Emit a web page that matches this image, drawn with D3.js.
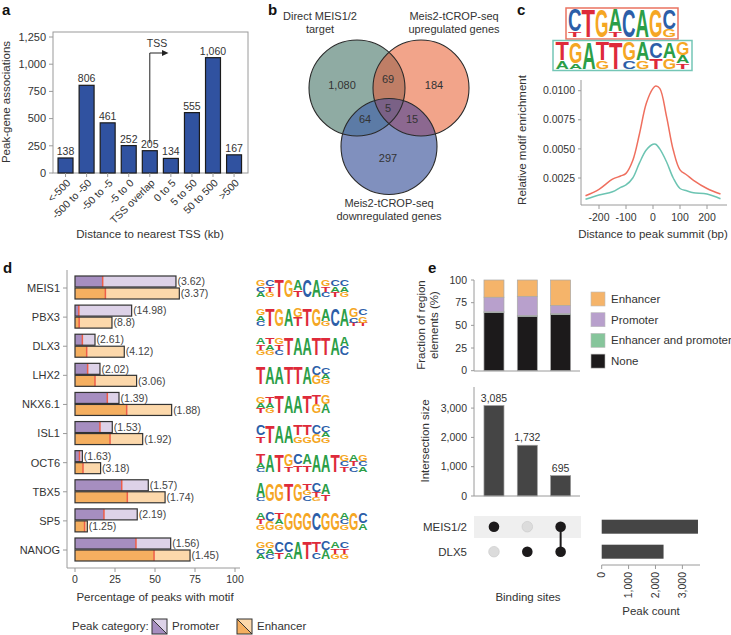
<!DOCTYPE html>
<html><head><meta charset="utf-8">
<script src="https://cdn.jsdelivr.net/npm/d3@7"></script>
<style>
body{margin:0;background:#fff}
text{font-family:"Liberation Sans",Arial,Helvetica,sans-serif}
</style>
</head><body>
<svg id="fig" width="731" height="635" xmlns="http://www.w3.org/2000/svg"></svg>
<script>
// ================= DATA =================
// Panel a
const tssCategories = ["<-500","-500 to -50","-50 to -5","-5 to 0","TSS overlap","0 to 5","5 to 50","50 to 500",">500"];
const tssCounts = [138,806,461,252,205,134,555,1060,167];
const tssTicks = [0,250,500,750,1000,1250];

// Panel b (Venn)
const vennSetLabels = [["Direct MEIS1/2","target"],["Meis2-tCROP-seq","upregulated genes"],["Meis2-tCROP-seq","downregulated genes"]];
const vennRegions = ["A","B","C","AB","AC","BC","ABC"];
const vennCounts = [1080,184,297,69,64,15,5];

// Panel c
const summitPos = [-250,-200,-150,-120,-100,-75,-50,-25,0,10,25,50,75,100,125,150,200,250];
const enrichMeis = [0.00098,0.00153,0.0024,0.00267,0.0029,0.0040,0.0063,0.0089,0.0102,0.0104,0.0102,0.0078,0.0049,0.0032,0.00276,0.0023,0.0016,0.00113];
const enrichPbx  = [0.00067,0.00104,0.00132,0.0017,0.0019,0.0025,0.0038,0.0049,0.0054,0.0054,0.0050,0.0039,0.0025,0.0016,0.0014,0.00124,0.00113,0.00072];
const enrichYTicks = [0.0025,0.005,0.0075,0.01];
const summitXTicks = [-200,-100,0,100,200];
const logoMeis = ["C8T2","T10","G10","A8T2","C10","A10","G10","C7G3"];
const logoPbx  = ["T7A3","G8A2","A10","T7G3","T10","G7C3","A7G3","C6T4","A6G4","G5A3T2"];

// Panel d
const tfNames = ["MEIS1","PBX3","DLX3","LHX2","NKX6.1","ISL1","OCT6","TBX5","SP5","NANOG"];
const promoterPct   = [63.1,35.4,12.5,15.6,27.5,23.3,4.6,45.8,38.9,59.8];
const promoterBgPct = [17.3,2.4,4.6,7.9,20.2,15.6,2.8,29.2,18.1,38.1];
const enhancerPct   = [65.2,23.1,30.8,38.5,60.4,42.3,16.0,56.3,7.7,71.9];
const enhancerBgPct = [19.0,2.6,7.3,12.5,32.3,21.9,5.0,32.7,6.0,49.4];
const promoterFold  = ["3.62","14.98","2.61","2.02","1.39","1.53","1.63","1.57","2.19","1.56"];
const enhancerFold  = ["3.37","8.8","4.12","3.06","1.88","1.92","3.18","1.74","1.25","1.45"];
const pctTicks = [0,25,50,75,100];
const tfLogos = [
  ["G4A3C3","C4G3T3","T10","G10","A6T4","C10","A10","G4C3T3","C4T3A3","C4G3A3"],
  ["G4C3A3","T10","G10","A10","T5G5","T10","G10","A7G3","C10","A10","G5C3T2","G4C4T2"],
  ["A4G3T3","T4G3A3","G4C3T3","T10","A10","A10","T10","T10","A10","C5A5"],
  ["T10","A10","A10","T10","T10","A10","G5C5","C4G3A3"],
  ["G4T3A3","T4G3A3","T10","A10","A10","T10","G5T5","A5G5"],
  ["C6T4","T10","A10","A10","T6G4","T6G4","G5C5","C4G3A3"],
  ["T5A3C2","A10","T10","G7T3","C6T4","A6T4","A10","A10","T10","G4T3C3","A4C3T3","G4A3C3"],
  ["A8C2","G10","G10","T10","G10","T4C3G3","C5T3G2","A6T4"],
  ["A4G3T3","G5C5","T4G3A3","G10","G10","G10","C10","G10","G10","A4G3C3","G10","C6A4"],
  ["G4A3C3","G4C3A3","C6T4","C6A4","A10","T10","T6C4","A5C5","A4G3T3","C4G3T3"]
];

// Panel e
const regionCats = ["None","Enhancer and promoter","Promoter","Enhancer"];
const fracNone     = [64,60,62];
const fracBoth     = [1,1,1];
const fracPromoter = [16,21,9];
const fracEnhancer = [19,18,28];
const fracTicks = [0,25,50,75,100];
const intersectSizes = [3085,1732,695];
const intersectTicks = [0,1000,2000,3000];
const setNames = ["MEIS1/2","DLX5"];
const setMembership = [[1,0],[0,1],[1,1]];
const setPeakCounts = [3580,2300];
const peakTicks = [0,1000,2000,3000];

// ================= DRAW =================
const svg = d3.select("#fig");
svg.append("rect").attr("width",731).attr("height",635).attr("fill","#fff");
const TXT = "#333", AXC = "#9a9a9a";
function T(g,x,y,s,o={}){
  const t=g.append("text").text(s).attr("font-size",o.size||11)
    .attr("text-anchor",o.anchor||"start").attr("fill",o.fill||TXT);
  if(o.weight) t.attr("font-weight",o.weight);
  if(o.rotate!=null) t.attr("transform",`translate(${x},${y}) rotate(${o.rotate})`);
  else t.attr("x",x).attr("y",y);
  if(o.dy) t.attr("dy",o.dy);
  return t;
}
function L(g,x1,y1,x2,y2,c,w){g.append("line").attr("x1",x1).attr("y1",y1).attr("x2",x2).attr("y2",y2).attr("stroke",c||AXC).attr("stroke-width",w||1);}
const baseColor={A:"#2b9e47",C:"#2c5ea8",G:"#f5a623",T:"#de2a3a"};
function drawLogo(g,cols,x0,yb,w,H){
  cols.forEach((col,i)=>{
    const parts=[...col.matchAll(/([ACGT])(\d+)/g)].map(m=>({l:m[1],v:+m[2]}));
    parts.sort((p,q)=>p.v-q.v);
    let y=yb;
    parts.forEach(p=>{
      const h=H*p.v/10;
      g.append("text").text(p.l).attr("font-size",10).attr("font-weight","bold")
       .attr("fill",baseColor[p.l]).attr("textLength",w).attr("lengthAdjust","spacingAndGlyphs")
       .attr("transform",`translate(${x0+i*w},${y}) scale(1,${h/7.3})`);
      y-=h;
    });
  });
}
const fmt = d3.format(",");

// ---------- Panel a ----------
{
  const g=svg.append("g");
  T(g,2,15,"a",{size:15,weight:"bold",fill:"#111"});
  const x=d3.scaleBand().domain(tssCategories).range([55,244.6]).paddingInner(0.29).paddingOuter(0.145);
  const y=d3.scaleLinear().domain([0,1250]).range([173,37]);
  g.append("rect").attr("x",53).attr("y",32).attr("width",195).attr("height",141).attr("fill","none").attr("stroke",AXC);
  tssTicks.forEach(t=>{L(g,49,y(t),53,y(t));T(g,46,y(t),fmt(t),{anchor:"end",dy:"0.35em"});});
  g.selectAll(".bar").data(tssCounts).join("rect")
    .attr("x",(d,i)=>x(tssCategories[i])).attr("width",x.bandwidth())
    .attr("y",d=>y(d)).attr("height",d=>y(0)-y(d))
    .attr("fill","#3052a0").attr("stroke","#1b1b1b").attr("stroke-width",1.2);
  tssCategories.forEach((c,i)=>{
    const cx=x(c)+x.bandwidth()/2;
    L(g,cx,173,cx,177);
    T(g,cx,y(tssCounts[i])-3,fmt(tssCounts[i]),{anchor:"middle",size:10.5});
    T(g,cx+3,181,c,{anchor:"end",rotate:-45,dy:"0.35em",size:10.5});
  });
  T(g,10,102,"Peak-gene associations",{anchor:"middle",rotate:-90,size:11.5});
  T(g,150,238,"Distance to nearest TSS (kb)",{anchor:"middle",size:11.5});
  const ax=x("TSS overlap")+x.bandwidth()/2;
  g.append("path").attr("d",`M${ax},143V53H163`).attr("fill","none").attr("stroke","#222").attr("stroke-width",1);
  g.append("path").attr("d","M162,50L168.5,53L162,56Z").attr("fill","#222");
  T(g,157,47,"TSS",{anchor:"middle",size:10.5});
}

// ---------- Panel b ----------
{
  const g=svg.append("g");
  T(g,268,15,"b",{size:15,weight:"bold",fill:"#111"});
  const C=[[357,88],[421,88],[389,146.5]], r=48;
  const defs=svg.append("defs");
  C.forEach((c,i)=>defs.append("clipPath").attr("id","vc"+i).append("circle").attr("cx",c[0]).attr("cy",c[1]).attr("r",r));
  const fills=["#8faba3","#f2a48a","#8090be"];
  const circ=(c,f,clip)=>{const e=g.append("circle").attr("cx",c[0]).attr("cy",c[1]).attr("r",r).attr("fill",f);if(clip!=null)e.attr("clip-path",`url(#vc${clip})`);return e;};
  C.forEach((c,i)=>circ(c,fills[i]));
  circ(C[1],"#bf7e66",0);
  circ(C[2],"#5c7ba6",0);
  circ(C[2],"#8c6890",1);
  g.append("g").attr("clip-path","url(#vc0)").append("circle").attr("cx",C[2][0]).attr("cy",C[2][1]).attr("r",r).attr("fill","#7a6186").attr("clip-path","url(#vc1)");
  C.forEach(c=>g.append("circle").attr("cx",c[0]).attr("cy",c[1]).attr("r",r).attr("fill","none").attr("stroke","#2a2a2a").attr("stroke-width",1.1));
  const pos={A:[342,85],B:[434,85],C:[388,158],AB:[388,79],AC:[365,119],BC:[412,119],ABC:[388,108]};
  vennRegions.forEach((k,i)=>T(g,pos[k][0],pos[k][1],fmt(vennCounts[i]),{anchor:"middle",dy:"0.35em",size:11}));
  const lp=[[320,20],[454,20],[389,207]];
  vennSetLabels.forEach((ls,i)=>ls.forEach((s,j)=>T(g,lp[i][0],lp[i][1]+j*12.5,s,{anchor:"middle",size:11})));
}

// ---------- Panel c ----------
{
  const g=svg.append("g");
  T(g,517,15,"c",{size:15,weight:"bold",fill:"#111"});
  g.append("rect").attr("x",566).attr("y",8).attr("width",112).attr("height",31).attr("fill","#fff").attr("stroke","#ea7360").attr("stroke-width",1.5);
  drawLogo(g,logoMeis,568,37,13.5,28);
  g.append("rect").attr("x",553).attr("y",40.5).attr("width",139).attr("height",30).attr("fill","#fff").attr("stroke","#74c6b6").attr("stroke-width",1.5);
  drawLogo(g,logoPbx,555.5,68.5,13.4,27);
  const x=d3.scaleLinear().domain([-250,250]).range([585.5,720.5]);
  const y=d3.scaleLinear().domain([0,0.0108]).range([207.1,81.4]);
  L(g,581,80,581,205); L(g,581,205,727,205);
  enrichYTicks.forEach(t=>{L(g,578,y(t),581,y(t));T(g,575,y(t),d3.format(".4f")(t),{anchor:"end",dy:"0.35em",size:10.5});});
  summitXTicks.forEach(t=>{L(g,x(t),205,x(t),209);T(g,x(t),221,String(t),{anchor:"middle",size:10.5});});
  const line=d3.line().x((d,i)=>x(summitPos[i])).y(d=>y(d)).curve(d3.curveCatmullRom.alpha(0.5));
  g.append("path").attr("d",line(enrichMeis)).attr("fill","none").attr("stroke","#ef6f5e").attr("stroke-width",1.5);
  g.append("path").attr("d",line(enrichPbx)).attr("fill","none").attr("stroke","#6cc4b2").attr("stroke-width",1.5);
  T(g,526,140,"Relative motif enrichment",{anchor:"middle",rotate:-90,size:11.5});
  T(g,653,238,"Distance to peak summit (bp)",{anchor:"middle",size:11.5});
}

// ---------- Panel d ----------
{
  const g=svg.append("g");
  T(g,3,273,"d",{size:15,weight:"bold",fill:"#111"});
  const y=d3.scalePoint().domain(tfNames).range([288,550]);
  const x=d3.scaleLinear().domain([0,100]).range([75,235]);
  L(g,67,270,67,568); L(g,67,568,240,568);
  pctTicks.forEach(t=>{L(g,x(t),568,x(t),572);T(g,x(t),583,t,{anchor:"middle",size:10.5});});
  T(g,155,601,"Percentage of peaks with motif",{anchor:"middle",size:11.5});
  const groups=[
    {tot:promoterPct,bg:promoterBgPct,fold:promoterFold,off:-12,dark:"#a68ec0",light:"#ddd2e8"},
    {tot:enhancerPct,bg:enhancerBgPct,fold:enhancerFold,off:0,dark:"#f5af60",light:"#fcd8ab"}
  ];
  tfNames.forEach((n,i)=>{
    const cy=y(n);
    L(g,63,cy,67,cy);
    T(g,60,cy,n,{anchor:"end",dy:"0.35em",size:11});
    groups.forEach(G=>{
      const y0=cy+G.off, h=11;
      g.append("rect").attr("x",x(0)).attr("y",y0).attr("width",x(G.tot[i])-x(0)).attr("height",h).attr("fill",G.light);
      g.append("rect").attr("x",x(0)).attr("y",y0).attr("width",x(G.bg[i])-x(0)).attr("height",h).attr("fill",G.dark);
      L(g,x(G.bg[i]),y0,x(G.bg[i]),y0+h,"#ee5d48",1.5);
      g.append("rect").attr("x",x(0)).attr("y",y0).attr("width",x(G.tot[i])-x(0)).attr("height",h).attr("fill","none").attr("stroke","#333").attr("stroke-width",1.2);
      T(g,x(G.tot[i])+1.5,y0+h/2,`(${G.fold[i]})`,{dy:"0.35em",size:10.5,fill:"#444"});
    });
    drawLogo(g,tfLogos[i],256,cy+9,9.3,18);
  });
  // legend
  T(g,72,630,"Peak category:",{size:11.5});
  const sw=(x0,dark,light,label)=>{
    const s=15,y0=619;
    g.append("path").attr("d",`M${x0},${y0}L${x0},${y0+s}L${x0+s},${y0+s}Z`).attr("fill",dark);
    g.append("path").attr("d",`M${x0},${y0}L${x0+s},${y0}L${x0+s},${y0+s}Z`).attr("fill",light);
    L(g,x0,y0,x0+s,y0+s,"#333",1);
    g.append("rect").attr("x",x0).attr("y",y0).attr("width",s).attr("height",s).attr("fill","none").attr("stroke","#333").attr("stroke-width",1);
    T(g,x0+20,630,label,{size:11.5});
  };
  sw(152,"#a68ec0","#ddd2e8","Promoter");
  sw(237,"#f5af60","#fcd8ab","Enhancer");
}

// ---------- Panel e ----------
{
  const g=svg.append("g");
  T(g,428,273,"e",{size:15,weight:"bold",fill:"#111"});
  const cols=[0,1,2];
  const x=d3.scaleBand().domain(cols).range([477.3,577.3]).paddingInner(0.4).paddingOuter(0.2);
  // stacked fraction
  const yF=d3.scaleLinear().domain([0,100]).range([370.7,280]);
  const stackData=cols.map(i=>({None:fracNone[i],"Enhancer and promoter":fracBoth[i],Promoter:fracPromoter[i],Enhancer:fracEnhancer[i]}));
  const series=d3.stack().keys(regionCats)(stackData);
  const regColor={"None":"#1c1a1b","Enhancer and promoter":"#86c59b","Promoter":"#b8a0cc","Enhancer":"#f5b46a"};
  series.forEach(s=>{
    g.selectAll(null).data(s).join("rect").attr("x",(d,i)=>x(i)).attr("width",x.bandwidth())
      .attr("y",d=>yF(d[1])).attr("height",d=>yF(d[0])-yF(d[1]))
      .attr("fill",regColor[s.key]).attr("stroke","#a8a8a8").attr("stroke-width",0.7);
  });
  L(g,474,280,474,371); L(g,474,371,580,371);
  fracTicks.forEach(t=>{L(g,471,yF(t),474,yF(t));T(g,467,yF(t),t,{anchor:"end",dy:"0.35em",size:10.5});});
  T(g,425,325,"Fraction of region",{anchor:"middle",rotate:-90,size:11.5});
  T(g,438,325,"elements (%)",{anchor:"middle",rotate:-90,size:11.5});
  ["Enhancer","Promoter","Enhancer and promoter","None"].forEach((k,j)=>{
    const cy=299+j*20.7;
    g.append("rect").attr("x",591).attr("y",cy-7).attr("width",14).attr("height",14).attr("fill",regColor[k]).attr("stroke","#bbb").attr("stroke-width",0.6);
    T(g,611,cy,k,{dy:"0.35em",size:11.5});
  });
  // intersection size
  const yI=d3.scaleLinear().domain([0,3720]).range([496,387]);
  g.selectAll(null).data(intersectSizes).join("rect").attr("x",(d,i)=>x(i)).attr("width",x.bandwidth())
    .attr("y",d=>yI(d)).attr("height",d=>yI(0)-yI(d)).attr("fill","#454545").attr("stroke","#9a9a9a").attr("stroke-width",0.7);
  intersectSizes.forEach((d,i)=>T(g,x(i)+x.bandwidth()/2,yI(d)-4,fmt(d),{anchor:"middle",size:10.5}));
  L(g,474,387,474,496); L(g,474,496,580,496);
  intersectTicks.forEach(t=>{L(g,471,yI(t),474,yI(t));T(g,467,yI(t),fmt(t),{anchor:"end",dy:"0.35em",size:10.5});});
  T(g,429,441,"Intersection size",{anchor:"middle",rotate:-90,size:11.5});
  // matrix
  const yS=d3.scalePoint().domain(setNames).range([526.7,551.7]);
  g.append("rect").attr("x",474).attr("y",516).attr("width",107).attr("height",22).attr("fill","#efefef");
  setNames.forEach(s=>T(g,467,yS(s),s,{anchor:"end",dy:"0.35em",size:11.5}));
  setMembership.forEach((m,i)=>{
    const cx=x(i)+x.bandwidth()/2;
    const on=setNames.filter((s,j)=>m[j]);
    if(on.length>1) L(g,cx,yS(on[0]),cx,yS(on[on.length-1]),"#1c1a1b",2);
    setNames.forEach((s,j)=>{
      g.append("circle").attr("cx",cx).attr("cy",yS(s)).attr("r",5.3)
        .attr("fill",m[j]?"#1c1a1b":"#dcdcdc").attr("stroke",m[j]?"none":"#c8c8c8").attr("stroke-width",0.6);
    });
  });
  T(g,528,601,"Binding sites",{anchor:"middle",size:11.5});
  // peak counts
  const xP=d3.scaleLinear().domain([0,3700]).range([601.7,701.2]);
  const bh=14;
  setNames.forEach((s,j)=>{
    g.append("rect").attr("x",xP(0)).attr("y",yS(s)-bh/2).attr("width",xP(setPeakCounts[j])-xP(0)).attr("height",bh).attr("fill","#454545");
  });
  L(g,601.7,565,700,565);
  peakTicks.forEach(t=>{L(g,xP(t),565,xP(t),569);T(g,xP(t),572,fmt(t),{anchor:"end",rotate:-90,dy:"0.35em",size:10.5});});
  T(g,651,615,"Peak count",{anchor:"middle",size:11.5});
}
</script>
</body></html>
